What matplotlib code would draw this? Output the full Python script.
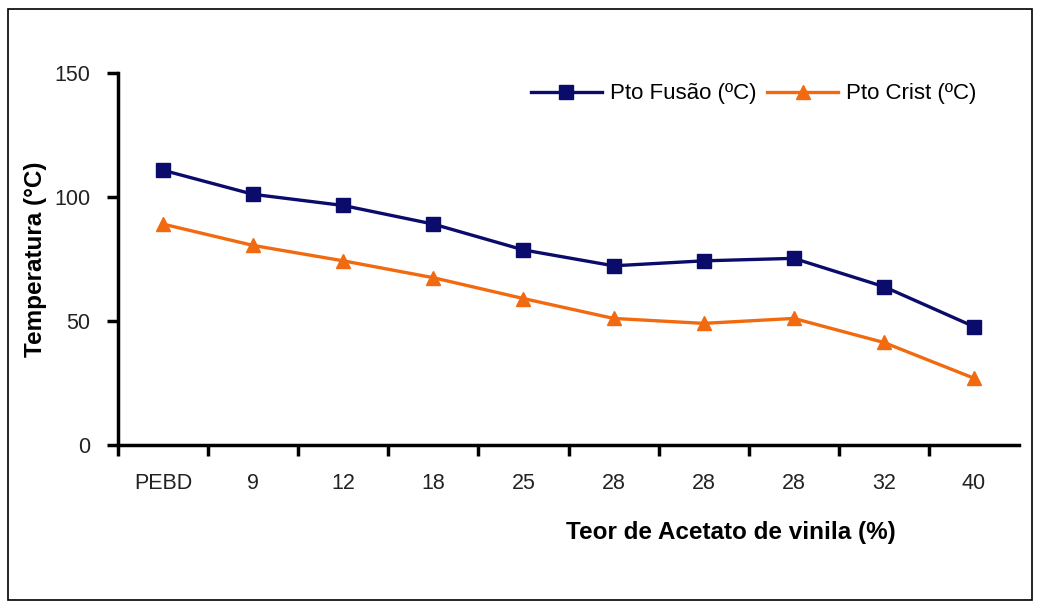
import matplotlib.pyplot as plt
from matplotlib.patches import Rectangle

# Dados
categorias = ['PEBD', '9', '12', '18', '25', '28', '28', '28', '32', '40']
pto_fusao = [110.7, 101, 96.5, 89, 78.6, 72.2, 74.2, 75.2, 63.8, 47.7]
pto_crist = [89, 80.4, 74.2, 67.4, 59, 51, 49, 51, 41.3, 26.9]

azul = '#0b0b6b'
laranja = '#f26a10'
fonte = ['Liberation Sans', 'DejaVu Sans']

fig = plt.figure(figsize=(10.41, 6.09), dpi=100)
fig.patches.append(Rectangle((0.008, 0.014), 0.983, 0.972, transform=fig.transFigure,
                             fill=False, edgecolor='black', linewidth=1.2))

ax = fig.add_axes([0.1134, 0.2693, 0.8655, 0.6113])
x = range(len(categorias))
ax.plot(x, pto_fusao, color=azul, linewidth=2.4, marker='s', markersize=10.5,
        label='Pto Fusão (ºC)')
ax.plot(x, pto_crist, color=laranja, linewidth=2.4, marker='^', markersize=10.5,
        label='Pto Crist (ºC)')

ax.set_xlim(-0.5, 9.5)
ax.set_ylim(0, 150)
ax.set_yticks([0, 50, 100, 150])
ax.set_xticks([i - 0.5 for i in range(len(categorias))])
ax.set_xticklabels([])
ax.set_xticks(list(x), minor=True)
ax.set_xticklabels(categorias, minor=True)
ax.tick_params(axis='x', which='minor', length=0, pad=20)
ax.tick_params(axis='both', which='major', direction='out', length=8, width=2.5)
for lab in ax.get_xticklabels(minor=True) + ax.get_yticklabels():
    lab.set_family(fonte)
    lab.set_fontsize(15.5)
    lab.set_color('#222222')
ax.tick_params(axis='y', pad=12)
for s in ['top', 'right']:
    ax.spines[s].set_visible(False)
for s in ['left', 'bottom']:
    ax.spines[s].set_linewidth(2.5)

ax.set_ylabel('Temperatura (°C)', fontsize=17.5, fontweight='bold', family=fonte, labelpad=5)
fig.text(0.702, 0.126, 'Teor de Acetato de vinila (%)', fontsize=17.5, fontweight='bold',
         family=fonte, ha='center', va='center')

ax.legend(loc='upper right', bbox_to_anchor=(0.975, 1.025), ncol=2, frameon=False,
          handlelength=3.2, columnspacing=0.5, handletextpad=0.35,
          prop={'family': fonte, 'size': 16})

plt.savefig('out.png', dpi=100)
